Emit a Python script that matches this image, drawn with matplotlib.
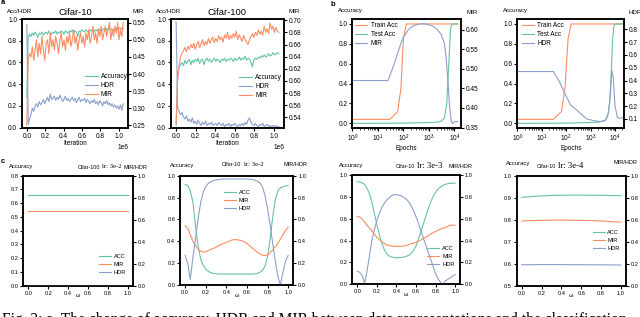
import numpy as np
import matplotlib
matplotlib.use("Agg")
import matplotlib.pyplot as plt
from matplotlib.ticker import MultipleLocator

plt.rcParams['font.family'] = ['Liberation Sans', 'DejaVu Sans']
plt.rcParams['axes.unicode_minus'] = False

GREEN, ORANGE, BLUE = '#66c2a5', '#fc8d62', '#8da0cb'
W, H = 640, 317

# ---------------- panel a: training curves (iteration, x in raw iterations) ----------------
acc_c10 = [0.28, 0.84, 0.86, 0.84, 0.87, 0.85, 0.88, 0.86, 0.83, 0.87, 0.86, 0.88, 0.85, 0.87, 0.88,
           0.86, 0.89, 0.87, 0.86, 0.88, 0.87, 0.89, 0.86, 0.88, 0.87, 0.89, 0.88, 0.86, 0.89, 0.88,
           0.87, 0.89, 0.88, 0.90, 0.87, 0.89, 0.88, 0.84, 0.89, 0.88, 0.90, 0.89, 0.88, 0.90, 0.89,
           0.87, 0.90, 0.89, 0.91, 0.88, 0.90, 0.89, 0.91, 0.90, 0.88, 0.90, 0.91, 0.89, 0.91, 0.90,
           0.92, 0.90, 0.91, 0.89, 0.92, 0.91, 0.90, 0.92, 0.91, 0.92, 0.91]
hdr_c10 = [0.95, 0.03, 0.08, 0.12, 0.18, 0.15, 0.20, 0.22, 0.19, 0.24, 0.21, 0.23, 0.26, 0.22, 0.25,
           0.28, 0.24, 0.31, 0.26, 0.27, 0.29, 0.25, 0.28, 0.26, 0.30, 0.27, 0.24, 0.26, 0.29, 0.25,
           0.27, 0.24, 0.26, 0.28, 0.25, 0.27, 0.23, 0.26, 0.28, 0.24, 0.26, 0.25, 0.27, 0.23, 0.26,
           0.24, 0.22, 0.25, 0.23, 0.26, 0.22, 0.24, 0.21, 0.25, 0.23, 0.20, 0.24, 0.22, 0.25, 0.21,
           0.23, 0.20, 0.22, 0.19, 0.21, 0.18, 0.20, 0.17, 0.21, 0.16, 0.22]
mir_c10 = [0.25, 0.44, 0.46, 0.45, 0.48, 0.44, 0.47, 0.50, 0.45, 0.49, 0.46, 0.51, 0.47, 0.44, 0.49,
           0.50, 0.46, 0.52, 0.48, 0.50, 0.47, 0.51, 0.49, 0.46, 0.50, 0.52, 0.48, 0.50, 0.47, 0.51,
           0.49, 0.52, 0.48, 0.50, 0.53, 0.49, 0.51, 0.47, 0.50, 0.52, 0.49, 0.51, 0.48, 0.52, 0.50,
           0.53, 0.49, 0.51, 0.54, 0.50, 0.52, 0.49, 0.53, 0.51, 0.54, 0.50, 0.52, 0.54, 0.51, 0.53,
           0.55, 0.50, 0.53, 0.51, 0.54, 0.52, 0.55, 0.50, 0.53, 0.51, 0.55]
acc_c100 = [0.02, 0.50, 0.56, 0.58, 0.60, 0.57, 0.62, 0.59, 0.61, 0.63, 0.58, 0.62, 0.60, 0.63, 0.61,
            0.64, 0.59, 0.62, 0.63, 0.58, 0.62, 0.64, 0.61, 0.63, 0.60, 0.62, 0.64, 0.61, 0.63, 0.62,
            0.60, 0.63, 0.62, 0.64, 0.61, 0.63, 0.62, 0.64, 0.63, 0.61, 0.64, 0.62, 0.63, 0.65, 0.62,
            0.64, 0.63, 0.66, 0.62, 0.64, 0.63, 0.60, 0.56, 0.62, 0.64, 0.63, 0.65, 0.64, 0.66, 0.65,
            0.67, 0.65, 0.66, 0.68, 0.66, 0.67, 0.69, 0.67, 0.68, 0.69, 0.68]
hdr_c100 = [0.97, 0.18, 0.15, 0.12, 0.14, 0.10, 0.08, 0.11, 0.06, 0.08, 0.05, 0.09, 0.04, 0.06, 0.03,
            0.07, 0.04, 0.02, 0.05, 0.03, 0.06, 0.02, 0.04, 0.03, 0.05, 0.02, 0.03, 0.04, 0.02, 0.05,
            0.03, 0.02, 0.04, 0.01, 0.03, 0.02, 0.04, 0.01, 0.03, 0.02, 0.04, 0.02, 0.01, 0.03, 0.02,
            0.04, 0.02, 0.05, 0.03, 0.07, 0.09, 0.05, 0.03, 0.02, 0.04, 0.02, 0.01, 0.03, 0.02, 0.04,
            0.01, 0.02, 0.03, 0.01, 0.02, 0.01, 0.02, 0.01, 0.02, 0.01, 0.01]
mir_c100 = [0.53, 0.60, 0.625, 0.64, 0.645, 0.65, 0.655, 0.648, 0.657, 0.652, 0.66, 0.655, 0.662, 0.652,
            0.66, 0.665, 0.655, 0.662, 0.668, 0.658, 0.665, 0.66, 0.67, 0.662, 0.668, 0.672, 0.663, 0.67,
            0.665, 0.675, 0.668, 0.672, 0.664, 0.676, 0.67, 0.68, 0.668, 0.675, 0.67, 0.678, 0.672, 0.682,
            0.668, 0.676, 0.67, 0.665, 0.675, 0.668, 0.664, 0.66, 0.668, 0.673, 0.678, 0.672, 0.68, 0.675,
            0.684, 0.677, 0.682, 0.675, 0.69, 0.68, 0.686, 0.678, 0.695, 0.685, 0.69, 0.68, 0.688, 0.682,
            0.68]
iter_max = 1.05e6

# ---------------- panel b: grokking curves (epochs, log x) ----------------
b1_train_ep = [1, 30, 60, 80, 100, 130, 13500]
b1_train = [0.04, 0.04, 0.12, 0.35, 0.85, 1.0, 1.0]
b1_test_ep = [1, 100, 1000, 2000, 3000, 4000, 5000, 6000, 7000, 8000, 13500]
b1_test = [0.0, 0.002, 0.008, 0.012, 0.02, 0.05, 0.2, 0.6, 0.95, 1.0, 1.0]
b1_mir_ep = [1, 25, 40, 60, 80, 100, 150, 200, 300, 500, 800, 1000, 1500, 2000, 3000, 4000, 4700,
             5500, 6500, 7500, 8500, 10000, 13500]
b1_mir = [0.47, 0.47, 0.505, 0.54, 0.565, 0.58, 0.598, 0.606, 0.612, 0.615, 0.614, 0.612, 0.608,
          0.602, 0.588, 0.565, 0.53, 0.47, 0.40, 0.365, 0.36, 0.365, 0.365]

b2_train_ep = [1, 30, 65, 90, 120, 160, 20000]
b2_train = [0.04, 0.04, 0.12, 0.36, 0.85, 1.0, 1.0]
b2_test_ep = [1, 100, 1000, 2000, 3000, 4000, 5000, 6000, 7000, 8000, 9000, 10000, 20000]
b2_test = [0.0, 0.002, 0.008, 0.012, 0.02, 0.03, 0.07, 0.2, 0.5, 0.85, 0.98, 1.0, 1.0]
b2_hdr_ep = [1, 30, 50, 77, 105, 150, 270, 690, 1500, 2450, 4000, 5400, 6500, 7400, 8500, 10000,
             12600, 16000, 20000]
b2_hdr = [0.47, 0.47, 0.40, 0.325, 0.27, 0.21, 0.17, 0.10, 0.085, 0.08, 0.09, 0.145, 0.30, 0.48,
          0.42, 0.20, 0.11, 0.105, 0.11]

# ---------------- panel c: interpolation along omega ----------------
omega = [0.0, 0.025, 0.05, 0.075, 0.1, 0.125, 0.15, 0.175, 0.2, 0.225, 0.25, 0.275, 0.3, 0.325,
         0.35, 0.375, 0.4, 0.425, 0.45, 0.475, 0.5, 0.525, 0.55, 0.575, 0.6, 0.625, 0.65, 0.675,
         0.7, 0.725, 0.75, 0.775, 0.8, 0.825, 0.85, 0.875, 0.9, 0.925, 0.95, 0.975, 1.0]
omega_coarse = [0.0, 0.1, 0.2, 0.3, 0.4, 0.5, 0.6, 0.7, 0.8, 0.9, 1.0]

c1_acc = [0.66, 0.66, 0.66, 0.66, 0.66, 0.66, 0.66, 0.66, 0.66, 0.66, 0.66]
c1_mir = [0.679, 0.679, 0.679, 0.679, 0.679, 0.679, 0.679, 0.679, 0.679, 0.679, 0.679]
c1_hdr = [0.008, 0.008, 0.008, 0.008, 0.008, 0.008, 0.008, 0.008, 0.008, 0.008, 0.008]

c2_acc = [0.92, 0.91, 0.86, 0.76, 0.55, 0.36, 0.24, 0.18, 0.145, 0.125, 0.113, 0.106, 0.103,
          0.10, 0.10, 0.10, 0.10, 0.10, 0.10, 0.10, 0.10, 0.10, 0.10, 0.10, 0.10, 0.10, 0.10,
          0.102, 0.106, 0.115, 0.135, 0.17, 0.26, 0.42, 0.62, 0.78, 0.86, 0.89, 0.90, 0.905, 0.91]
c2_mir = [0.54, 0.52, 0.46, 0.40, 0.36, 0.33, 0.31, 0.30, 0.305, 0.315, 0.325, 0.335, 0.345, 0.36,
          0.37, 0.38, 0.39, 0.40, 0.41, 0.415, 0.415, 0.41, 0.405, 0.395, 0.38, 0.36, 0.34, 0.32,
          0.30, 0.285, 0.272, 0.268, 0.275, 0.295, 0.32, 0.35, 0.38, 0.42, 0.46, 0.50, 0.53]
c2_hdr = [0.27, 0.20, 0.05, 0.25, 0.42, 0.60, 0.75, 0.85, 0.90, 0.93, 0.945, 0.955, 0.96, 0.965,
          0.968, 0.97, 0.97, 0.97, 0.97, 0.97, 0.97, 0.97, 0.97, 0.97, 0.97, 0.968, 0.965, 0.96,
          0.95, 0.935, 0.90, 0.82, 0.70, 0.55, 0.38, 0.22, 0.08, 0.0, 0.12, 0.22, 0.27]

c3_acc = [0.94, 0.935, 0.93, 0.915, 0.88, 0.83, 0.75, 0.65, 0.55, 0.46, 0.38, 0.32, 0.28, 0.26,
          0.25, 0.245, 0.243, 0.243, 0.245, 0.25, 0.255, 0.265, 0.28, 0.31, 0.35, 0.41, 0.48, 0.55,
          0.62, 0.69, 0.75, 0.80, 0.84, 0.87, 0.89, 0.905, 0.915, 0.92, 0.925, 0.925, 0.925]
c3_mir = [0.62, 0.615, 0.60, 0.57, 0.54, 0.515, 0.49, 0.46, 0.43, 0.41, 0.39, 0.375, 0.36, 0.355,
          0.35, 0.348, 0.347, 0.347, 0.348, 0.351, 0.355, 0.362, 0.37, 0.377, 0.385, 0.395, 0.405,
          0.417, 0.43, 0.445, 0.46, 0.472, 0.485, 0.495, 0.505, 0.513, 0.52, 0.53, 0.54, 0.541, 0.54]
c3_hdr = [0.12, 0.11, 0.08, 0.01, 0.12, 0.26, 0.40, 0.50, 0.58, 0.645, 0.70, 0.74, 0.77, 0.79,
          0.81, 0.82, 0.82, 0.815, 0.81, 0.795, 0.78, 0.755, 0.72, 0.675, 0.62, 0.56, 0.49, 0.425,
          0.36, 0.295, 0.23, 0.165, 0.10, 0.05, 0.02, 0.0, 0.03, 0.045, 0.06, 0.075, 0.09]

c4_acc = [0.902, 0.905, 0.908, 0.91, 0.911, 0.912, 0.912, 0.911, 0.911, 0.91, 0.909]
c4_mir = [0.588, 0.592, 0.594, 0.596, 0.596, 0.595, 0.594, 0.592, 0.588, 0.583, 0.578]
c4_hdr = [0.191, 0.191, 0.192, 0.192, 0.192, 0.191, 0.191, 0.19, 0.19, 0.189, 0.188]

caption = ("Fig. 3: a. The change of accuracy, HDR and MIR between data representations "
           "and the classification")

TS = 4.7     # tick / label size, top row
TSC = 4.1    # tick / label size, bottom row


def rect(l, t, r, b):
    return [l / W, 1 - b / H, (r - l) / W, (b - t) / H]


def ftext(x, y, s, size, ha='center', **kw):
    fig.text(x / W, 1 - y / H, s, fontsize=size, ha=ha, va='center', **kw)


def style(ax, size):
    for s in ax.spines.values():
        s.set_linewidth(1.1)
    ax.tick_params(direction='out', length=2.5, width=0.8, labelsize=size, pad=1)
    ax.tick_params(which='minor', length=1.3, width=0.5)


def leg(ax, handles, labels, anchor, size, hl=2.0, sp=0.3):
    ax.legend(handles, labels, loc='upper left', bbox_to_anchor=anchor, frameon=False,
              fontsize=size, borderpad=0, borderaxespad=0, handlelength=hl,
              handletextpad=0.5, labelspacing=sp)


fig = plt.figure(figsize=(6.4, 3.17), dpi=100)
lw = 0.8

# ---- a1 / a2
for box, acc, hdr, mir, title, rlim, rstep, anc in [
        ((22, 19, 128, 127.7), acc_c10, hdr_c10, mir_c10, 'Cifar-10', (0.243, 0.561), 0.05, (0.59, 0.50)),
        ((171, 19, 284, 127.7), acc_c100, hdr_c100, mir_c100, 'Cifar-100', (0.523, 0.702), 0.02, (0.60, 0.494))]:
    ax = fig.add_axes(rect(*box))
    ax2 = ax.twinx()
    x = np.linspace(0, iter_max, len(acc))
    la, = ax.plot(x, acc, color=GREEN, lw=lw)
    lh, = ax.plot(x, hdr, color=BLUE, lw=lw)
    lm, = ax2.plot(x, mir, color=ORANGE, lw=lw)
    ax.set_ylim(0, 1.0)
    ax.yaxis.set_major_locator(MultipleLocator(0.2))
    ax2.set_ylim(*rlim)
    ax2.yaxis.set_major_locator(MultipleLocator(rstep))
    ax.set_xticks([0, 2e5, 4e5, 6e5, 8e5, 1e6])
    ax.set_xlabel('Iteration', fontsize=TS, labelpad=0.5)
    ax.xaxis.get_offset_text().set_fontsize(TS)
    ax.set_title(title, fontsize=6.8, pad=3)
    style(ax, TS)
    style(ax2, TS)
    leg(ax2, [la, lh, lm], ['Accuracy', 'HDR', 'MIR'], anc, TS)
    ftext(box[0] - 2.5, 11.7, 'Acc/HDR', 4.4)
    ftext(box[2] + 10, 11.7, 'MIR', 4.4)

# ---- b1 / b2
for box, tr_ep, tr, te_ep, te, r_ep, r, rname, rlim, rstep, xmax, anc in [
        ((352.3, 19, 461, 128.3), b1_train_ep, b1_train, b1_test_ep, b1_test, b1_mir_ep, b1_mir,
         'MIR', (0.348, 0.627), 0.05, 1.8e4, (0.025, 0.969)),
        ((517.3, 19, 624.3, 128.3), b2_train_ep, b2_train, b2_test_ep, b2_test, b2_hdr_ep, b2_hdr,
         'HDR', (0.027, 0.88), 0.1, 2.4e4, (0.041, 0.969))]:
    ax = fig.add_axes(rect(*box))
    ax2 = ax.twinx()
    l1, = ax.plot(tr_ep, tr, color=ORANGE, lw=lw)
    l2, = ax.plot(te_ep, te, color=GREEN, lw=lw)
    l3, = ax2.plot(r_ep, r, color=BLUE, lw=lw)
    ax.set_xscale('log')
    ax.set_xlim(1, xmax)
    ax.set_ylim(-0.05, 1.05)
    ax.yaxis.set_major_locator(MultipleLocator(0.2))
    ax2.set_ylim(*rlim)
    ax2.yaxis.set_major_locator(MultipleLocator(rstep))
    ax.set_xlabel('Epochs', fontsize=TS, labelpad=0.5)
    style(ax, TS)
    style(ax2, TS)
    leg(ax2, [l1, l2, l3], ['Train Acc', 'Test Acc', rname], anc, TS, hl=1.9)
    ftext(box[0] - 1.5, 10.7, 'Accuracy', 4.4)
    ftext(box[2] + 11, 12, rname, 4.4)

# ---- c panels
cpanels = [
    dict(box=(23.3, 175.7, 133, 285.7), x=omega_coarse, acc=c1_acc, mir=c1_mir, hdr=c1_hdr,
         ylim=(0, 0.8), ystep=0.1, anc=(0.69, 0.289), name='Cifar-100', lr='lr: 3e-2', lrs=4.9,
         acc_xy=(20.8, 166.7), gap=101, mh_x=123, mh_y=167, ty=167),
    dict(box=(180, 175.7, 293.3, 285), x=omega, acc=c2_acc, mir=c2_mir, hdr=c2_hdr,
         ylim=(0, 1.0), ystep=0.2, anc=(0.388, 0.865), name='Cifar-10', lr='lr: 3e-2', lrs=4.9,
         acc_xy=(182.5, 165), gap=242.5, mh_x=283.5, mh_y=165, ty=165),
    dict(box=(352.3, 175, 460, 284.3), x=omega, acc=c3_acc, mir=c3_mir, hdr=c3_hdr,
         ylim=(0, 1.0), ystep=0.2, anc=(0.696, 0.349), name='Cifar-10', lr='lr: 3e-3', lrs=6.2,
         acc_xy=(351, 166), gap=415.8, mh_x=448.5, mh_y=166, ty=166),
    dict(box=(516.7, 175.7, 626, 285.7), x=omega_coarse, acc=c4_acc, mir=c4_mir, hdr=c4_hdr,
         ylim=(0.5, 1.0), ystep=0.1, anc=(0.695, 0.507), name='Cifar-10', lr='lr: 3e-4', lrs=6.2,
         acc_xy=(518.5, 163.3), gap=557.3, mh_x=613.5, mh_y=162.7, ty=166.7),
]
for p in cpanels:
    ax = fig.add_axes(rect(*p['box']))
    ax2 = ax.twinx()
    la, = ax.plot(p['x'], p['acc'], color=GREEN, lw=lw)
    lm, = ax2.plot(p['x'], p['mir'], color=ORANGE, lw=lw)
    lh, = ax2.plot(p['x'], p['hdr'], color=BLUE, lw=lw)
    ax.set_ylim(*p['ylim'])
    ax.yaxis.set_major_locator(MultipleLocator(p['ystep']))
    ax2.set_ylim(0, 1.0)
    ax2.yaxis.set_major_locator(MultipleLocator(0.2))
    ax.set_xticks([0, 0.2, 0.4, 0.6, 0.8, 1.0])
    ax.set_xlabel('ω', fontsize=TSC, labelpad=-1.5)
    style(ax, TSC)
    style(ax2, TSC)
    leg(ax2, [la, lm, lh], ['ACC', 'MIR', 'HDR'], p['anc'], TSC, hl=2.1, sp=0.5)
    ftext(*p['acc_xy'], 'Accuracy', 4.2)
    ftext(p['gap'] - 1, p['ty'], p['name'], 3.9, ha='right')
    ftext(p['gap'] + 1, p['ty'] - 0.5, p['lr'], p['lrs'], ha='left', family='Liberation Serif')
    ftext(p['mh_x'], p['mh_y'], 'MIR/HDR', 4.0, ha='left')

# panel letters
ftext(3, 3, 'a', 5.5, fontweight='bold')
ftext(333, 4, 'b', 5.5, fontweight='bold')
ftext(3, 161.7, 'c', 5.5, fontweight='bold')

# caption (cut at bottom edge like the source crop)
cap = fig.text(2 / W, 0, caption, fontsize=10.3, family='Liberation Serif', va='baseline')
fig.canvas.draw()
cw = cap.get_window_extent().width
fs = 10.3 * 620 / cw
cap.set_fontsize(fs)
base_px = 313.5 + 0.66 * fs * 100 / 72
cap.set_y(1 - base_px / H)

fig.savefig('out.png', dpi=100)
